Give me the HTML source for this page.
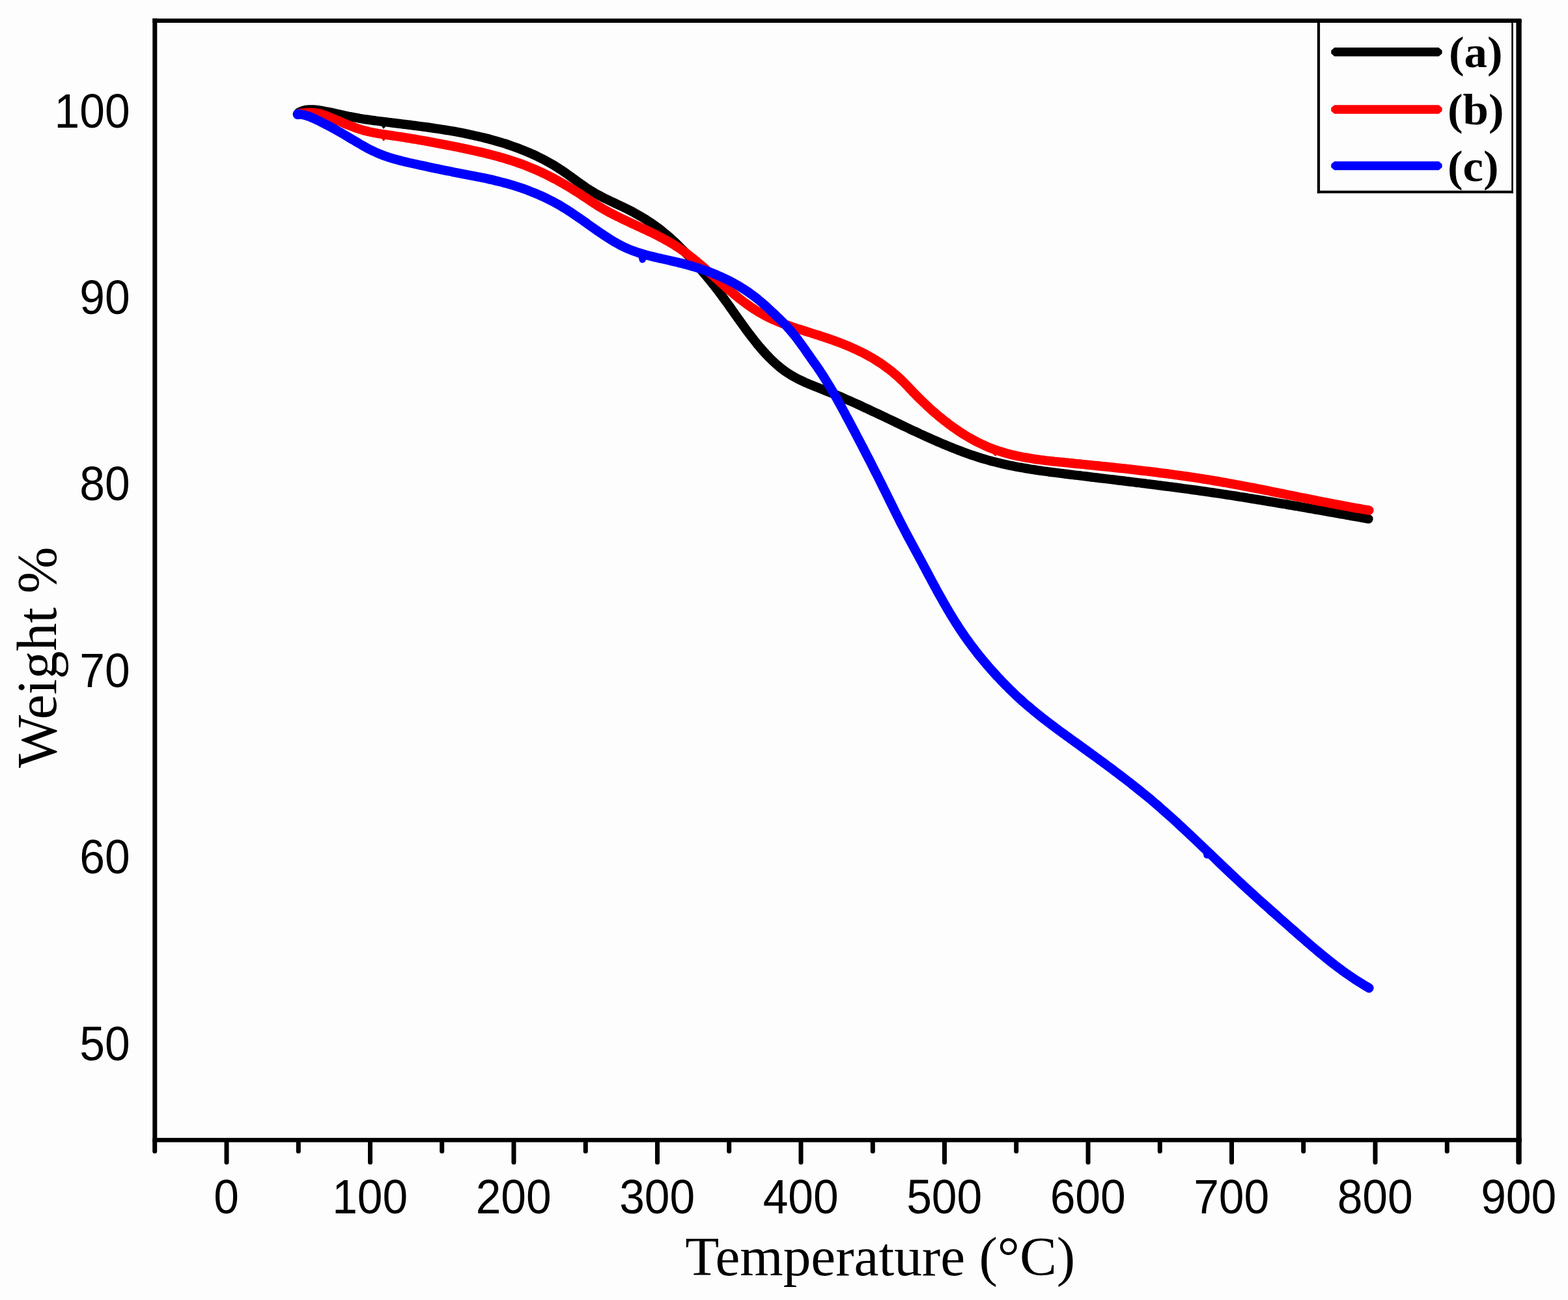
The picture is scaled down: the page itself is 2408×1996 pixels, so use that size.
<!DOCTYPE html>
<html lang="en">
<head>
<meta charset="utf-8">
<title>TGA curves: Weight % vs Temperature (°C)</title>
<style>
html,body{margin:0;padding:0;background:#fdfdfd;}
body{width:2408px;height:1996px;overflow:hidden;}
svg{display:block;}
</style>
</head>
<body>
<svg width="2408" height="1996" viewBox="0 0 2408 1996">
<rect width="2408" height="1996" fill="#fdfdfd"/>
<path d="M458.9 172.6C460.2 172.2 463.8 170.4 466.4 169.7C468.9 169.0 471.6 168.7 474.2 168.5C476.9 168.3 479.5 168.4 482.2 168.5C484.9 168.7 487.6 169.0 490.3 169.4C492.9 169.7 495.6 170.2 498.3 170.7C500.9 171.1 503.6 171.7 506.2 172.2C508.8 172.7 511.5 173.3 514.1 173.9C516.7 174.4 519.3 175.0 521.9 175.6C524.5 176.2 527.1 176.8 529.7 177.4C532.3 177.9 534.9 178.5 537.5 179.1C540.1 179.6 542.7 180.1 545.3 180.6C547.9 181.1 550.5 181.6 553.1 182.0C555.8 182.4 558.4 182.8 561.0 183.2C563.7 183.6 566.3 184.0 568.9 184.3C571.6 184.7 574.2 185.0 576.9 185.4C579.5 185.7 582.2 186.0 584.8 186.4C587.5 186.7 590.1 187.0 592.8 187.3C595.4 187.7 598.1 188.0 600.8 188.3C603.4 188.6 606.1 189.0 608.7 189.3C611.4 189.6 614.0 189.9 616.7 190.3C619.4 190.6 622.0 190.9 624.7 191.3C627.3 191.6 630.0 191.9 632.6 192.3C635.3 192.6 638.0 192.9 640.6 193.3C643.3 193.6 645.9 194.0 648.6 194.4C651.2 194.7 653.9 195.1 656.5 195.4C659.2 195.8 661.9 196.2 664.5 196.6C667.2 197.0 669.8 197.4 672.5 197.8C675.1 198.2 677.7 198.6 680.4 199.0C683.0 199.4 685.7 199.8 688.3 200.3C691.0 200.7 693.6 201.2 696.2 201.6C698.9 202.1 701.5 202.6 704.1 203.1C706.7 203.6 709.4 204.1 712.0 204.6C714.6 205.1 717.2 205.6 719.9 206.2C722.5 206.7 725.1 207.3 727.7 207.9C730.3 208.4 732.9 209.0 735.5 209.7C738.1 210.3 740.7 210.9 743.3 211.5C745.9 212.2 748.5 212.8 751.1 213.5C753.7 214.2 756.2 214.9 758.8 215.6C761.4 216.4 764.0 217.1 766.5 217.9C769.1 218.6 771.6 219.4 774.2 220.2C776.8 221.0 779.3 221.9 781.8 222.7C784.4 223.6 786.9 224.4 789.5 225.4C792.0 226.3 794.5 227.2 797.0 228.1C799.5 229.1 802.0 230.1 804.5 231.1C807.0 232.1 809.5 233.1 811.9 234.1C814.4 235.2 816.8 236.3 819.3 237.4C821.7 238.5 824.1 239.6 826.5 240.8C828.9 242.0 831.3 243.2 833.7 244.4C836.1 245.6 838.4 246.9 840.8 248.2C843.1 249.4 845.5 250.8 847.8 252.1C850.1 253.5 852.3 254.9 854.6 256.3C856.9 257.7 859.1 259.1 861.3 260.6C863.6 262.1 865.8 263.6 868.0 265.1C870.2 266.7 872.3 268.2 874.5 269.8C876.7 271.4 878.8 272.9 881.0 274.5C883.1 276.1 885.3 277.7 887.5 279.2C889.6 280.8 891.8 282.3 894.0 283.9C896.1 285.4 898.3 286.9 900.5 288.4C902.7 289.8 905.0 291.3 907.2 292.7C909.5 294.1 911.7 295.4 914.0 296.7C916.3 298.0 918.6 299.3 921.0 300.5C923.3 301.8 925.7 303.0 928.0 304.2C930.4 305.3 932.8 306.5 935.2 307.6C937.6 308.8 940.0 309.9 942.4 311.0C944.8 312.2 947.2 313.3 949.6 314.4C952.0 315.5 954.4 316.7 956.8 317.8C959.2 319.0 961.6 320.2 964.0 321.4C966.3 322.6 968.7 323.8 971.1 325.0C973.4 326.3 975.8 327.6 978.1 328.9C980.4 330.2 982.7 331.5 985.0 332.9C987.3 334.2 989.6 335.6 991.9 337.1C994.1 338.5 996.4 339.9 998.6 341.4C1000.8 342.9 1003.0 344.4 1005.2 346.0C1007.3 347.5 1009.5 349.1 1011.6 350.7C1013.8 352.4 1015.9 354.0 1017.9 355.7C1020.0 357.4 1022.1 359.1 1024.1 360.8C1026.2 362.6 1028.2 364.3 1030.2 366.1C1032.2 367.9 1034.1 369.7 1036.1 371.5C1038.1 373.4 1040.0 375.2 1041.9 377.1C1043.8 379.0 1045.7 380.9 1047.6 382.8C1049.5 384.7 1051.4 386.6 1053.3 388.5C1055.1 390.5 1056.9 392.4 1058.8 394.4C1060.6 396.4 1062.4 398.3 1064.2 400.3C1066.0 402.3 1067.8 404.3 1069.6 406.3C1071.3 408.3 1073.1 410.3 1074.9 412.3C1076.6 414.3 1078.4 416.3 1080.1 418.3C1081.8 420.3 1083.5 422.4 1085.2 424.4C1086.9 426.5 1088.6 428.5 1090.3 430.6C1092.0 432.6 1093.7 434.7 1095.3 436.8C1097.0 438.9 1098.6 441.0 1100.2 443.1C1101.9 445.2 1103.5 447.3 1105.1 449.5C1106.7 451.6 1108.3 453.8 1109.9 455.9C1111.4 458.1 1113.0 460.2 1114.6 462.4C1116.2 464.6 1117.7 466.7 1119.3 468.9C1120.8 471.1 1122.4 473.3 1123.9 475.4C1125.4 477.6 1127.0 479.8 1128.5 482.0C1130.0 484.1 1131.6 486.3 1133.1 488.5C1134.6 490.6 1136.2 492.8 1137.7 494.9C1139.3 497.1 1140.8 499.2 1142.4 501.4C1143.9 503.5 1145.5 505.7 1147.1 507.8C1148.7 509.9 1150.3 512.1 1151.9 514.2C1153.5 516.3 1155.1 518.4 1156.8 520.5C1158.4 522.6 1160.1 524.7 1161.8 526.8C1163.4 528.9 1165.2 530.9 1166.9 533.0C1168.6 535.0 1170.4 537.1 1172.2 539.1C1174.0 541.1 1175.8 543.1 1177.6 545.0C1179.5 547.0 1181.3 548.9 1183.2 550.8C1185.1 552.7 1187.1 554.6 1189.1 556.4C1191.0 558.2 1193.0 560.0 1195.1 561.7C1197.1 563.4 1199.2 565.1 1201.3 566.7C1203.4 568.3 1205.5 569.9 1207.7 571.4C1209.9 572.9 1212.1 574.3 1214.4 575.7C1216.7 577.0 1219.0 578.3 1221.3 579.6C1223.6 580.9 1226.0 582.1 1228.4 583.3C1230.8 584.4 1233.2 585.5 1235.6 586.7C1238.0 587.8 1240.5 588.8 1242.9 589.9C1245.4 590.9 1247.9 591.9 1250.4 592.9C1252.9 593.9 1255.4 594.9 1257.9 595.9C1260.4 596.9 1262.9 597.9 1265.4 598.9C1267.9 599.8 1270.4 600.8 1272.9 601.8C1275.4 602.8 1277.8 603.8 1280.3 604.9C1282.8 605.9 1285.3 606.9 1287.7 608.0C1290.2 609.0 1292.6 610.0 1295.1 611.1C1297.5 612.2 1300.0 613.2 1302.4 614.3C1304.9 615.4 1307.3 616.5 1309.7 617.5C1312.2 618.6 1314.6 619.7 1317.0 620.8C1319.5 621.9 1321.9 623.0 1324.3 624.2C1326.7 625.3 1329.1 626.4 1331.6 627.5C1334.0 628.6 1336.4 629.8 1338.8 630.9C1341.2 632.0 1343.6 633.2 1346.0 634.3C1348.4 635.4 1350.8 636.6 1353.2 637.7C1355.6 638.9 1358.0 640.0 1360.4 641.1C1362.8 642.3 1365.3 643.4 1367.7 644.6C1370.1 645.7 1372.5 646.9 1374.9 648.0C1377.3 649.2 1379.7 650.3 1382.1 651.5C1384.5 652.6 1386.9 653.8 1389.3 654.9C1391.7 656.1 1394.2 657.2 1396.6 658.4C1399.0 659.5 1401.4 660.6 1403.8 661.8C1406.3 662.9 1408.7 664.0 1411.1 665.2C1413.6 666.3 1416.0 667.4 1418.4 668.5C1420.9 669.7 1423.3 670.8 1425.8 671.9C1428.2 673.0 1430.7 674.1 1433.1 675.2C1435.6 676.2 1438.0 677.3 1440.5 678.4C1442.9 679.5 1445.4 680.5 1447.9 681.6C1450.3 682.6 1452.8 683.6 1455.3 684.7C1457.8 685.7 1460.3 686.7 1462.7 687.7C1465.2 688.7 1467.7 689.7 1470.2 690.6C1472.7 691.6 1475.2 692.5 1477.7 693.5C1480.2 694.4 1482.7 695.3 1485.3 696.2C1487.8 697.1 1490.3 698.0 1492.8 698.9C1495.4 699.7 1497.9 700.6 1500.4 701.4C1503.0 702.2 1505.5 703.0 1508.1 703.8C1510.6 704.5 1513.2 705.3 1515.7 706.0C1518.3 706.8 1520.9 707.5 1523.4 708.2C1526.0 708.8 1528.6 709.5 1531.2 710.1C1533.7 710.8 1536.3 711.4 1538.9 712.0C1541.5 712.6 1544.1 713.2 1546.7 713.7C1549.3 714.3 1551.9 714.8 1554.5 715.3C1557.2 715.9 1559.8 716.4 1562.4 716.9C1565.0 717.4 1567.6 717.8 1570.3 718.3C1572.9 718.7 1575.5 719.2 1578.2 719.6C1580.8 720.0 1583.4 720.5 1586.1 720.9C1588.7 721.3 1591.3 721.7 1594.0 722.1C1596.6 722.4 1599.3 722.8 1601.9 723.2C1604.6 723.6 1607.2 723.9 1609.9 724.3C1612.5 724.6 1615.2 725.0 1617.8 725.3C1620.5 725.7 1623.1 726.0 1625.8 726.3C1628.4 726.7 1631.1 727.0 1633.7 727.3C1636.4 727.6 1639.1 728.0 1641.7 728.3C1644.4 728.6 1647.0 728.9 1649.7 729.3C1652.3 729.6 1655.0 729.9 1657.6 730.2C1660.3 730.5 1663.0 730.9 1665.6 731.2C1668.3 731.5 1670.9 731.8 1673.6 732.1C1676.2 732.5 1678.9 732.8 1681.5 733.1C1684.2 733.4 1686.8 733.7 1689.5 734.1C1692.1 734.4 1694.8 734.7 1697.5 735.0C1700.1 735.3 1702.8 735.7 1705.4 736.0C1708.1 736.3 1710.7 736.6 1713.4 736.9C1716.0 737.3 1718.7 737.6 1721.3 737.9C1724.0 738.2 1726.6 738.5 1729.3 738.9C1731.9 739.2 1734.6 739.5 1737.2 739.8C1739.9 740.2 1742.5 740.5 1745.2 740.8C1747.8 741.1 1750.5 741.5 1753.2 741.8C1755.8 742.1 1758.5 742.4 1761.1 742.8C1763.8 743.1 1766.4 743.4 1769.1 743.8C1771.7 744.1 1774.4 744.4 1777.0 744.8C1779.7 745.1 1782.3 745.5 1784.9 745.8C1787.6 746.1 1790.2 746.5 1792.9 746.8C1795.5 747.2 1798.2 747.5 1800.8 747.8C1803.5 748.2 1806.1 748.5 1808.8 748.9C1811.4 749.2 1814.1 749.6 1816.7 750.0C1819.4 750.3 1822.0 750.7 1824.7 751.0C1827.3 751.4 1830.0 751.7 1832.6 752.1C1835.2 752.5 1837.9 752.8 1840.5 753.2C1843.2 753.6 1845.8 754.0 1848.5 754.3C1851.1 754.7 1853.8 755.1 1856.4 755.5C1859.0 755.9 1861.7 756.2 1864.3 756.6C1867.0 757.0 1869.6 757.4 1872.3 757.8C1874.9 758.2 1877.5 758.6 1880.2 759.0C1882.8 759.4 1885.5 759.8 1888.1 760.2C1890.7 760.6 1893.4 761.0 1896.0 761.4C1898.7 761.8 1901.3 762.2 1903.9 762.7C1906.6 763.1 1909.2 763.5 1911.9 763.9C1914.5 764.3 1917.1 764.8 1919.8 765.2C1922.4 765.6 1925.1 766.0 1927.7 766.5C1930.3 766.9 1933.0 767.3 1935.6 767.8C1938.2 768.2 1940.9 768.6 1943.5 769.1C1946.2 769.5 1948.8 769.9 1951.4 770.4C1954.1 770.8 1956.7 771.3 1959.3 771.7C1962.0 772.2 1964.6 772.6 1967.2 773.1C1969.9 773.5 1972.5 774.0 1975.1 774.4C1977.8 774.9 1980.4 775.3 1983.1 775.8C1985.7 776.2 1988.3 776.7 1991.0 777.1C1993.6 777.6 1996.2 778.0 1998.9 778.5C2001.5 779.0 2004.1 779.4 2006.8 779.9C2009.4 780.3 2012.0 780.8 2014.7 781.3C2017.3 781.7 2019.9 782.2 2022.6 782.6C2025.2 783.1 2027.8 783.6 2030.5 784.0C2033.1 784.5 2035.7 785.0 2038.3 785.4C2041.0 785.9 2043.6 786.4 2046.2 786.8C2048.9 787.3 2051.5 787.8 2054.1 788.2C2056.8 788.7 2059.4 789.1 2062.0 789.6C2064.7 790.1 2067.3 790.5 2069.9 791.0C2072.6 791.5 2075.2 791.9 2077.8 792.4C2080.5 792.9 2083.1 793.3 2085.7 793.8C2088.3 794.3 2091.0 794.7 2093.6 795.2C2096.2 795.7 2100.2 796.3 2101.5 796.6" fill="none" stroke="#000" stroke-width="14.3" stroke-linecap="round" stroke-linejoin="round"/>
<path d="M583.5 190l5.5 8 6-7z" fill="#000"/>
<path d="M458.0 174.5C459.3 174.3 463.3 173.8 465.9 173.6C468.6 173.3 471.3 173.1 474.0 173.0C476.7 172.9 479.4 172.9 482.0 173.2C484.7 173.4 487.3 173.8 489.9 174.3C492.5 174.9 495.1 175.7 497.6 176.6C500.1 177.4 502.6 178.5 505.1 179.5C507.6 180.5 510.1 181.5 512.5 182.5C515.0 183.6 517.5 184.6 519.9 185.7C522.4 186.7 524.9 187.8 527.3 188.8C529.8 189.9 532.3 190.9 534.7 191.9C537.2 192.9 539.7 193.9 542.2 194.8C544.7 195.7 547.2 196.6 549.7 197.5C552.2 198.3 554.8 199.1 557.3 199.8C559.9 200.6 562.5 201.2 565.1 201.8C567.7 202.5 570.3 203.0 572.9 203.5C575.6 204.0 578.2 204.5 580.9 205.0C583.5 205.4 586.2 205.8 588.9 206.2C591.5 206.6 594.2 207.0 596.9 207.4C599.5 207.8 602.2 208.2 604.9 208.6C607.5 209.0 610.2 209.4 612.8 209.8C615.5 210.2 618.1 210.6 620.8 211.0C623.4 211.5 626.0 211.9 628.7 212.3C631.3 212.8 633.9 213.2 636.6 213.6C639.2 214.1 641.8 214.5 644.4 215.0C647.1 215.4 649.7 215.9 652.3 216.3C654.9 216.8 657.5 217.3 660.2 217.7C662.8 218.2 665.4 218.7 668.0 219.2C670.6 219.7 673.2 220.2 675.8 220.7C678.5 221.2 681.1 221.7 683.7 222.2C686.3 222.7 688.9 223.2 691.5 223.7C694.1 224.2 696.8 224.8 699.4 225.3C702.0 225.8 704.6 226.4 707.2 226.9C709.9 227.4 712.5 228.0 715.1 228.5C717.7 229.1 720.3 229.7 723.0 230.2C725.6 230.8 728.2 231.4 730.8 232.0C733.5 232.6 736.1 233.2 738.7 233.8C741.3 234.4 743.9 235.0 746.6 235.7C749.2 236.3 751.8 236.9 754.4 237.6C757.0 238.3 759.6 239.0 762.2 239.7C764.8 240.4 767.4 241.1 770.0 241.8C772.6 242.6 775.1 243.3 777.7 244.1C780.3 244.9 782.8 245.7 785.4 246.5C787.9 247.3 790.5 248.2 793.0 249.1C795.5 249.9 798.1 250.8 800.6 251.7C803.1 252.7 805.6 253.6 808.1 254.6C810.5 255.6 813.0 256.6 815.5 257.6C817.9 258.6 820.4 259.7 822.8 260.7C825.3 261.8 827.7 262.9 830.1 264.0C832.6 265.1 835.0 266.3 837.4 267.4C839.8 268.6 842.1 269.8 844.5 271.0C846.9 272.2 849.3 273.4 851.6 274.7C854.0 275.9 856.3 277.2 858.7 278.5C861.0 279.8 863.3 281.1 865.6 282.4C867.9 283.8 870.2 285.1 872.5 286.5C874.8 287.9 877.1 289.2 879.4 290.7C881.7 292.1 883.9 293.5 886.2 294.9C888.4 296.4 890.7 297.8 892.9 299.3C895.1 300.8 897.4 302.3 899.6 303.7C901.8 305.2 904.0 306.7 906.3 308.2C908.5 309.7 910.7 311.2 913.0 312.6C915.2 314.0 917.5 315.5 919.7 316.9C922.0 318.3 924.3 319.6 926.6 321.0C928.9 322.3 931.2 323.6 933.6 324.9C935.9 326.2 938.3 327.4 940.6 328.6C943.0 329.9 945.4 331.1 947.8 332.3C950.2 333.4 952.6 334.6 955.0 335.8C957.4 336.9 959.8 338.1 962.2 339.2C964.6 340.4 967.0 341.5 969.5 342.6C971.9 343.7 974.3 344.9 976.7 346.0C979.2 347.1 981.6 348.2 984.0 349.3C986.4 350.5 988.8 351.6 991.3 352.7C993.7 353.9 996.1 355.0 998.5 356.2C1000.9 357.3 1003.3 358.5 1005.7 359.7C1008.0 360.9 1010.4 362.1 1012.8 363.3C1015.1 364.5 1017.5 365.8 1019.8 367.1C1022.1 368.3 1024.5 369.6 1026.8 371.0C1029.1 372.3 1031.4 373.6 1033.6 375.0C1035.9 376.4 1038.1 377.9 1040.3 379.3C1042.6 380.8 1044.8 382.3 1046.9 383.8C1049.1 385.4 1051.3 386.9 1053.4 388.5C1055.6 390.1 1057.7 391.7 1059.8 393.4C1061.9 395.0 1064.0 396.7 1066.1 398.4C1068.2 400.1 1070.3 401.8 1072.4 403.6C1074.4 405.3 1076.5 407.0 1078.5 408.8C1080.6 410.6 1082.6 412.4 1084.6 414.1C1086.7 415.9 1088.7 417.7 1090.7 419.5C1092.7 421.3 1094.8 423.1 1096.8 424.9C1098.8 426.7 1100.8 428.5 1102.8 430.3C1104.9 432.1 1106.9 434.0 1108.9 435.7C1110.9 437.5 1112.9 439.3 1115.0 441.1C1117.0 442.9 1119.0 444.6 1121.1 446.4C1123.1 448.1 1125.2 449.9 1127.2 451.6C1129.3 453.3 1131.4 455.0 1133.5 456.7C1135.5 458.4 1137.6 460.0 1139.7 461.6C1141.9 463.3 1144.0 464.9 1146.1 466.4C1148.3 468.0 1150.4 469.5 1152.6 471.0C1154.8 472.5 1157.0 474.0 1159.2 475.4C1161.4 476.9 1163.6 478.2 1165.9 479.6C1168.2 480.9 1170.4 482.2 1172.8 483.5C1175.1 484.8 1177.4 486.0 1179.8 487.1C1182.1 488.3 1184.5 489.4 1186.9 490.5C1189.3 491.6 1191.7 492.6 1194.2 493.6C1196.6 494.6 1199.1 495.6 1201.6 496.6C1204.0 497.5 1206.5 498.4 1209.1 499.3C1211.6 500.2 1214.1 501.1 1216.6 501.9C1219.1 502.8 1221.7 503.6 1224.2 504.5C1226.8 505.3 1229.3 506.1 1231.9 506.9C1234.4 507.7 1237.0 508.5 1239.6 509.3C1242.1 510.1 1244.7 510.9 1247.2 511.7C1249.8 512.5 1252.4 513.3 1254.9 514.2C1257.5 515.0 1260.0 515.8 1262.6 516.7C1265.1 517.5 1267.6 518.3 1270.2 519.2C1272.7 520.1 1275.2 520.9 1277.7 521.8C1280.3 522.7 1282.8 523.6 1285.3 524.6C1287.8 525.5 1290.3 526.4 1292.8 527.4C1295.3 528.4 1297.7 529.4 1300.2 530.4C1302.7 531.4 1305.1 532.4 1307.6 533.5C1310.0 534.6 1312.4 535.7 1314.8 536.8C1317.3 537.9 1319.7 539.1 1322.1 540.3C1324.5 541.4 1326.8 542.6 1329.2 543.9C1331.6 545.2 1333.9 546.4 1336.2 547.8C1338.6 549.1 1340.9 550.4 1343.2 551.8C1345.5 553.2 1347.7 554.7 1350.0 556.2C1352.3 557.6 1354.5 559.2 1356.7 560.7C1358.9 562.3 1361.1 563.9 1363.2 565.5C1365.4 567.1 1367.5 568.7 1369.6 570.4C1371.6 572.1 1373.7 573.8 1375.7 575.5C1377.6 577.2 1379.6 578.9 1381.5 580.7C1383.4 582.5 1385.2 584.2 1387.0 586.0C1388.8 587.8 1390.5 589.6 1392.3 591.4C1394.0 593.2 1395.7 595.1 1397.4 596.9C1399.2 598.7 1400.9 600.5 1402.6 602.4C1404.4 604.2 1406.2 606.0 1408.0 607.9C1409.8 609.7 1411.6 611.5 1413.5 613.3C1415.4 615.2 1417.2 617.0 1419.1 618.8C1421.1 620.6 1423.0 622.4 1424.9 624.2C1426.9 626.0 1428.9 627.8 1430.8 629.6C1432.8 631.4 1434.9 633.1 1436.9 634.9C1438.9 636.6 1441.0 638.3 1443.1 640.1C1445.2 641.8 1447.3 643.5 1449.4 645.2C1451.5 646.8 1453.6 648.5 1455.8 650.1C1458.0 651.8 1460.1 653.4 1462.3 655.0C1464.5 656.5 1466.7 658.1 1469.0 659.6C1471.2 661.2 1473.5 662.7 1475.7 664.1C1478.0 665.6 1480.3 667.1 1482.6 668.5C1484.9 669.9 1487.2 671.3 1489.6 672.6C1491.9 673.9 1494.3 675.2 1496.6 676.5C1499.0 677.8 1501.4 679.0 1503.8 680.2C1506.2 681.4 1508.6 682.5 1511.0 683.6C1513.5 684.7 1515.9 685.8 1518.4 686.8C1520.8 687.8 1523.3 688.7 1525.8 689.7C1528.3 690.6 1530.8 691.4 1533.3 692.3C1535.8 693.1 1538.3 693.9 1540.9 694.6C1543.4 695.4 1545.9 696.1 1548.5 696.8C1551.1 697.5 1553.6 698.1 1556.2 698.7C1558.8 699.3 1561.4 699.9 1563.9 700.4C1566.5 701.0 1569.1 701.5 1571.8 702.0C1574.4 702.4 1577.0 702.9 1579.6 703.3C1582.2 703.8 1584.9 704.2 1587.5 704.6C1590.1 705.0 1592.8 705.4 1595.4 705.7C1598.1 706.1 1600.7 706.4 1603.4 706.7C1606.0 707.1 1608.7 707.4 1611.3 707.7C1614.0 708.0 1616.7 708.3 1619.3 708.6C1622.0 708.8 1624.7 709.1 1627.3 709.4C1630.0 709.6 1632.7 709.9 1635.3 710.2C1638.0 710.4 1640.7 710.7 1643.3 711.0C1646.0 711.2 1648.7 711.5 1651.3 711.8C1654.0 712.0 1656.7 712.3 1659.3 712.5C1662.0 712.8 1664.7 713.1 1667.3 713.3C1670.0 713.6 1672.7 713.9 1675.3 714.1C1678.0 714.4 1680.7 714.7 1683.3 715.0C1686.0 715.2 1688.7 715.5 1691.3 715.8C1694.0 716.1 1696.7 716.3 1699.3 716.6C1702.0 716.9 1704.6 717.2 1707.3 717.4C1710.0 717.7 1712.6 718.0 1715.3 718.3C1717.9 718.6 1720.6 718.9 1723.3 719.2C1725.9 719.4 1728.6 719.7 1731.2 720.0C1733.9 720.3 1736.5 720.6 1739.2 720.9C1741.9 721.2 1744.5 721.5 1747.2 721.8C1749.8 722.1 1752.5 722.5 1755.1 722.8C1757.8 723.1 1760.4 723.4 1763.1 723.7C1765.7 724.0 1768.4 724.4 1771.0 724.7C1773.7 725.0 1776.3 725.3 1779.0 725.7C1781.6 726.0 1784.3 726.3 1786.9 726.7C1789.6 727.0 1792.2 727.4 1794.9 727.7C1797.5 728.1 1800.2 728.4 1802.8 728.8C1805.5 729.1 1808.1 729.5 1810.8 729.9C1813.4 730.2 1816.1 730.6 1818.7 731.0C1821.4 731.4 1824.0 731.8 1826.6 732.1C1829.3 732.5 1831.9 732.9 1834.6 733.3C1837.2 733.7 1839.8 734.1 1842.5 734.5C1845.1 734.9 1847.8 735.4 1850.4 735.8C1853.0 736.2 1855.7 736.6 1858.3 737.0C1861.0 737.5 1863.6 737.9 1866.2 738.4C1868.9 738.8 1871.5 739.3 1874.1 739.7C1876.8 740.2 1879.4 740.6 1882.0 741.1C1884.7 741.6 1887.3 742.0 1889.9 742.5C1892.6 743.0 1895.2 743.5 1897.8 744.0C1900.5 744.4 1903.1 744.9 1905.7 745.4C1908.4 745.9 1911.0 746.4 1913.6 746.9C1916.2 747.4 1918.9 747.9 1921.5 748.4C1924.1 748.9 1926.8 749.4 1929.4 750.0C1932.0 750.5 1934.6 751.0 1937.3 751.5C1939.9 752.0 1942.5 752.6 1945.1 753.1C1947.8 753.6 1950.4 754.1 1953.0 754.7C1955.6 755.2 1958.3 755.7 1960.9 756.2C1963.5 756.8 1966.1 757.3 1968.8 757.8C1971.4 758.4 1974.0 758.9 1976.6 759.4C1979.3 760.0 1981.9 760.5 1984.5 761.0C1987.1 761.6 1989.7 762.1 1992.4 762.6C1995.0 763.2 1997.6 763.7 2000.2 764.2C2002.9 764.7 2005.5 765.3 2008.1 765.8C2010.7 766.3 2013.3 766.9 2016.0 767.4C2018.6 767.9 2021.2 768.4 2023.8 768.9C2026.5 769.5 2029.1 770.0 2031.7 770.5C2034.3 771.0 2036.9 771.5 2039.6 772.0C2042.2 772.6 2044.8 773.1 2047.4 773.6C2050.1 774.1 2052.7 774.6 2055.3 775.1C2057.9 775.6 2060.5 776.1 2063.2 776.5C2065.8 777.0 2068.4 777.5 2071.0 778.0C2073.7 778.5 2076.3 779.0 2078.9 779.4C2081.5 779.9 2084.1 780.4 2086.8 780.8C2089.4 781.3 2092.0 781.7 2094.6 782.2C2097.3 782.6 2101.2 783.3 2102.5 783.5" fill="none" stroke="#f00" stroke-width="14.3" stroke-linecap="round" stroke-linejoin="round"/>
<path d="M583.5 209l5.5 8 6-7z" fill="#f00"/>
<path d="M1523 695l5.5 5.5 5-4z" fill="#f00"/>
<path d="M457.5 175.4C458.8 175.6 462.9 175.7 465.5 176.2C468.1 176.7 470.7 177.5 473.2 178.4C475.7 179.2 478.2 180.3 480.6 181.4C483.1 182.4 485.5 183.6 487.9 184.8C490.4 185.9 492.8 187.2 495.1 188.4C497.5 189.6 499.9 190.8 502.3 192.0C504.7 193.3 507.0 194.5 509.4 195.8C511.7 197.1 514.0 198.4 516.4 199.7C518.7 201.0 521.0 202.3 523.3 203.6C525.7 205.0 528.0 206.3 530.3 207.7C532.6 209.0 534.9 210.4 537.2 211.8C539.5 213.2 541.8 214.6 544.1 215.9C546.4 217.3 548.7 218.7 551.0 220.0C553.3 221.4 555.6 222.7 557.9 224.0C560.3 225.3 562.6 226.6 565.0 227.9C567.3 229.1 569.7 230.3 572.1 231.5C574.5 232.6 576.9 233.8 579.3 234.8C581.7 235.9 584.2 236.9 586.7 237.8C589.1 238.8 591.6 239.7 594.2 240.5C596.7 241.4 599.2 242.2 601.8 243.0C604.3 243.7 606.9 244.5 609.5 245.2C612.0 245.9 614.6 246.6 617.2 247.2C619.8 247.9 622.5 248.5 625.1 249.1C627.7 249.7 630.3 250.3 633.0 250.9C635.6 251.5 638.2 252.1 640.8 252.6C643.5 253.2 646.1 253.8 648.8 254.3C651.4 254.9 654.0 255.5 656.7 256.0C659.3 256.6 661.9 257.1 664.6 257.7C667.2 258.3 669.8 258.8 672.5 259.3C675.1 259.9 677.7 260.4 680.4 261.0C683.0 261.5 685.6 262.0 688.3 262.6C690.9 263.1 693.5 263.6 696.1 264.2C698.8 264.7 701.4 265.2 704.0 265.7C706.6 266.2 709.2 266.7 711.8 267.2C714.4 267.7 717.0 268.2 719.6 268.7C722.2 269.2 724.8 269.7 727.4 270.2C730.0 270.7 732.6 271.3 735.2 271.8C737.8 272.3 740.4 272.8 743.0 273.3C745.6 273.9 748.2 274.4 750.7 275.0C753.3 275.6 755.9 276.1 758.5 276.7C761.1 277.3 763.6 277.9 766.2 278.6C768.8 279.2 771.4 279.9 773.9 280.6C776.5 281.3 779.1 282.0 781.7 282.7C784.2 283.5 786.8 284.2 789.4 285.0C791.9 285.8 794.5 286.6 797.0 287.5C799.6 288.3 802.1 289.2 804.7 290.1C807.2 291.0 809.7 291.9 812.2 292.9C814.8 293.9 817.3 294.8 819.8 295.9C822.3 296.9 824.7 297.9 827.2 299.0C829.7 300.1 832.1 301.2 834.6 302.3C837.0 303.4 839.5 304.6 841.9 305.8C844.3 307.0 846.7 308.2 849.0 309.4C851.4 310.7 853.8 311.9 856.1 313.3C858.4 314.6 860.7 315.9 863.0 317.3C865.3 318.7 867.6 320.1 869.9 321.5C872.1 322.9 874.4 324.4 876.6 325.8C878.8 327.3 881.0 328.8 883.2 330.3C885.4 331.8 887.6 333.3 889.8 334.9C892.0 336.4 894.2 337.9 896.4 339.5C898.6 341.0 900.8 342.6 903.0 344.2C905.1 345.7 907.3 347.3 909.5 348.8C911.7 350.4 913.9 351.9 916.1 353.5C918.3 355.0 920.5 356.6 922.8 358.1C925.0 359.6 927.2 361.1 929.5 362.6C931.7 364.1 934.0 365.5 936.3 366.9C938.5 368.4 940.8 369.7 943.1 371.1C945.4 372.4 947.8 373.8 950.1 375.0C952.4 376.3 954.8 377.5 957.2 378.7C959.6 379.8 962.0 380.9 964.4 382.0C966.8 383.0 969.3 384.0 971.8 384.9C974.2 385.9 976.7 386.7 979.3 387.6C981.8 388.4 984.3 389.2 986.9 389.9C989.4 390.7 992.0 391.4 994.6 392.1C997.1 392.8 999.7 393.4 1002.3 394.0C1004.9 394.7 1007.5 395.3 1010.1 395.9C1012.8 396.5 1015.4 397.1 1018.0 397.6C1020.6 398.2 1023.2 398.8 1025.9 399.4C1028.5 400.0 1031.1 400.6 1033.7 401.2C1036.4 401.8 1039.0 402.4 1041.6 403.0C1044.2 403.7 1046.8 404.3 1049.4 405.0C1052.0 405.7 1054.6 406.4 1057.2 407.1C1059.8 407.8 1062.4 408.6 1064.9 409.4C1067.5 410.1 1070.1 410.9 1072.6 411.8C1075.1 412.6 1077.7 413.4 1080.2 414.3C1082.7 415.2 1085.2 416.1 1087.8 417.0C1090.3 417.9 1092.7 418.9 1095.2 419.9C1097.7 420.9 1100.2 421.9 1102.6 423.0C1105.0 424.0 1107.5 425.1 1109.9 426.2C1112.3 427.3 1114.7 428.5 1117.1 429.6C1119.5 430.8 1121.8 432.0 1124.2 433.3C1126.5 434.5 1128.9 435.8 1131.2 437.1C1133.5 438.5 1135.8 439.8 1138.0 441.2C1140.3 442.6 1142.5 444.0 1144.8 445.5C1147.0 447.0 1149.2 448.5 1151.4 450.0C1153.6 451.6 1155.7 453.2 1157.9 454.8C1160.0 456.4 1162.1 458.1 1164.2 459.8C1166.3 461.5 1168.3 463.3 1170.4 465.0C1172.4 466.8 1174.5 468.6 1176.5 470.4C1178.5 472.2 1180.5 474.1 1182.4 475.9C1184.4 477.8 1186.4 479.6 1188.4 481.4C1190.3 483.3 1192.3 485.1 1194.2 487.0C1196.1 488.8 1198.0 490.6 1199.9 492.5C1201.8 494.4 1203.7 496.2 1205.5 498.1C1207.4 500.1 1209.2 502.0 1210.9 504.0C1212.7 506.0 1214.4 508.0 1216.1 510.0C1217.8 512.1 1219.5 514.1 1221.1 516.2C1222.7 518.3 1224.4 520.4 1226.0 522.6C1227.6 524.7 1229.1 526.9 1230.7 529.0C1232.3 531.2 1233.8 533.4 1235.4 535.5C1236.9 537.7 1238.5 539.9 1240.0 542.1C1241.5 544.3 1243.1 546.5 1244.6 548.7C1246.2 550.9 1247.7 553.1 1249.2 555.3C1250.8 557.5 1252.3 559.6 1253.9 561.8C1255.4 564.0 1256.9 566.2 1258.4 568.4C1259.9 570.7 1261.4 572.9 1262.8 575.1C1264.3 577.4 1265.7 579.6 1267.1 581.9C1268.5 584.1 1269.9 586.4 1271.3 588.7C1272.7 590.9 1274.1 593.2 1275.5 595.5C1276.8 597.8 1278.2 600.1 1279.5 602.4C1280.9 604.7 1282.2 607.0 1283.5 609.3C1284.8 611.7 1286.1 614.0 1287.4 616.3C1288.7 618.6 1290.0 621.0 1291.3 623.3C1292.6 625.6 1293.9 628.0 1295.1 630.3C1296.4 632.7 1297.7 635.0 1298.9 637.4C1300.2 639.7 1301.5 642.1 1302.7 644.4C1304.0 646.8 1305.2 649.2 1306.5 651.5C1307.7 653.9 1309.0 656.2 1310.2 658.6C1311.5 661.0 1312.7 663.3 1314.0 665.7C1315.2 668.1 1316.5 670.4 1317.7 672.8C1318.9 675.2 1320.2 677.5 1321.4 679.9C1322.7 682.3 1323.9 684.6 1325.1 687.0C1326.4 689.4 1327.6 691.8 1328.8 694.1C1330.0 696.5 1331.3 698.9 1332.5 701.3C1333.7 703.7 1334.9 706.0 1336.2 708.4C1337.4 710.8 1338.6 713.2 1339.8 715.6C1341.0 717.9 1342.2 720.3 1343.4 722.7C1344.6 725.1 1345.9 727.5 1347.1 729.9C1348.3 732.3 1349.5 734.7 1350.7 737.1C1351.9 739.4 1353.1 741.8 1354.3 744.2C1355.5 746.6 1356.6 749.0 1357.8 751.4C1359.0 753.8 1360.2 756.2 1361.4 758.6C1362.6 761.0 1363.8 763.4 1364.9 765.8C1366.1 768.2 1367.3 770.6 1368.5 773.0C1369.7 775.4 1370.9 777.8 1372.1 780.2C1373.2 782.6 1374.4 785.0 1375.6 787.4C1376.8 789.8 1378.0 792.2 1379.2 794.5C1380.4 796.9 1381.6 799.3 1382.8 801.7C1384.0 804.1 1385.3 806.5 1386.5 808.8C1387.7 811.2 1388.9 813.6 1390.2 815.9C1391.4 818.3 1392.6 820.6 1393.9 823.0C1395.1 825.3 1396.4 827.7 1397.7 830.0C1398.9 832.4 1400.2 834.7 1401.5 837.0C1402.7 839.4 1404.0 841.7 1405.3 844.1C1406.6 846.4 1407.8 848.8 1409.1 851.1C1410.4 853.5 1411.6 855.8 1412.9 858.2C1414.2 860.5 1415.4 862.9 1416.7 865.2C1417.9 867.6 1419.2 870.0 1420.5 872.3C1421.7 874.7 1423.0 877.1 1424.2 879.4C1425.5 881.8 1426.8 884.2 1428.0 886.5C1429.3 888.9 1430.6 891.2 1431.8 893.6C1433.1 896.0 1434.4 898.3 1435.7 900.7C1437.0 903.1 1438.2 905.4 1439.5 907.8C1440.8 910.1 1442.1 912.5 1443.4 914.8C1444.7 917.1 1446.1 919.5 1447.4 921.8C1448.7 924.2 1450.0 926.5 1451.4 928.8C1452.7 931.1 1454.0 933.5 1455.4 935.8C1456.8 938.1 1458.1 940.4 1459.5 942.7C1460.9 945.0 1462.3 947.3 1463.7 949.5C1465.1 951.8 1466.5 954.1 1467.9 956.3C1469.4 958.6 1470.8 960.8 1472.3 963.1C1473.7 965.3 1475.2 967.6 1476.7 969.8C1478.2 972.0 1479.7 974.2 1481.2 976.4C1482.8 978.6 1484.3 980.8 1485.9 982.9C1487.4 985.1 1489.0 987.2 1490.6 989.4C1492.2 991.5 1493.8 993.7 1495.4 995.8C1497.0 997.9 1498.6 1000.0 1500.3 1002.1C1501.9 1004.2 1503.6 1006.3 1505.3 1008.4C1507.0 1010.4 1508.7 1012.5 1510.4 1014.5C1512.1 1016.6 1513.8 1018.6 1515.5 1020.6C1517.3 1022.7 1519.0 1024.7 1520.8 1026.7C1522.6 1028.7 1524.3 1030.7 1526.1 1032.6C1527.9 1034.6 1529.7 1036.6 1531.5 1038.5C1533.3 1040.5 1535.2 1042.4 1537.0 1044.4C1538.8 1046.3 1540.7 1048.2 1542.5 1050.1C1544.4 1052.0 1546.3 1053.9 1548.2 1055.8C1550.0 1057.7 1551.9 1059.6 1553.9 1061.4C1555.8 1063.3 1557.7 1065.1 1559.6 1067.0C1561.6 1068.8 1563.5 1070.6 1565.5 1072.4C1567.5 1074.2 1569.4 1076.0 1571.4 1077.7C1573.4 1079.5 1575.4 1081.2 1577.5 1083.0C1579.5 1084.7 1581.5 1086.4 1583.6 1088.1C1585.6 1089.8 1587.7 1091.5 1589.7 1093.2C1591.8 1094.9 1593.9 1096.6 1596.0 1098.2C1598.0 1099.9 1600.1 1101.6 1602.2 1103.2C1604.4 1104.8 1606.5 1106.5 1608.6 1108.1C1610.7 1109.7 1612.8 1111.3 1615.0 1113.0C1617.1 1114.6 1619.2 1116.2 1621.4 1117.8C1623.5 1119.4 1625.7 1121.0 1627.8 1122.6C1630.0 1124.1 1632.1 1125.7 1634.3 1127.3C1636.5 1128.9 1638.6 1130.5 1640.8 1132.0C1643.0 1133.6 1645.1 1135.2 1647.3 1136.7C1649.5 1138.3 1651.7 1139.9 1653.8 1141.4C1656.0 1143.0 1658.2 1144.6 1660.3 1146.1C1662.5 1147.7 1664.7 1149.3 1666.9 1150.9C1669.0 1152.4 1671.2 1154.0 1673.4 1155.6C1675.5 1157.1 1677.7 1158.7 1679.9 1160.3C1682.0 1161.9 1684.2 1163.4 1686.4 1165.0C1688.5 1166.6 1690.7 1168.2 1692.9 1169.8C1695.0 1171.4 1697.2 1173.0 1699.3 1174.5C1701.5 1176.1 1703.6 1177.7 1705.8 1179.3C1707.9 1180.9 1710.1 1182.5 1712.2 1184.2C1714.3 1185.8 1716.5 1187.4 1718.6 1189.0C1720.7 1190.6 1722.9 1192.2 1725.0 1193.9C1727.1 1195.5 1729.2 1197.1 1731.3 1198.8C1733.5 1200.4 1735.6 1202.0 1737.7 1203.7C1739.8 1205.3 1741.9 1207.0 1744.0 1208.7C1746.1 1210.3 1748.2 1212.0 1750.2 1213.7C1752.3 1215.3 1754.4 1217.0 1756.5 1218.7C1758.5 1220.4 1760.6 1222.1 1762.7 1223.8C1764.7 1225.5 1766.8 1227.2 1768.8 1228.9C1770.9 1230.7 1772.9 1232.4 1774.9 1234.1C1777.0 1235.9 1779.0 1237.6 1781.0 1239.4C1783.0 1241.1 1785.0 1242.9 1787.0 1244.7C1789.0 1246.4 1791.0 1248.2 1793.0 1250.0C1795.0 1251.8 1797.0 1253.5 1799.0 1255.3C1801.0 1257.1 1803.0 1258.9 1805.0 1260.7C1806.9 1262.5 1808.9 1264.3 1810.9 1266.2C1812.8 1268.0 1814.8 1269.8 1816.8 1271.6C1818.7 1273.4 1820.7 1275.3 1822.6 1277.1C1824.6 1278.9 1826.5 1280.8 1828.5 1282.6C1830.4 1284.4 1832.4 1286.3 1834.3 1288.1C1836.3 1290.0 1838.2 1291.8 1840.1 1293.6C1842.1 1295.5 1844.0 1297.3 1846.0 1299.2C1847.9 1301.0 1849.8 1302.9 1851.8 1304.7C1853.7 1306.6 1855.6 1308.4 1857.6 1310.3C1859.5 1312.1 1861.4 1314.0 1863.4 1315.8C1865.3 1317.7 1867.2 1319.6 1869.2 1321.4C1871.1 1323.3 1873.0 1325.1 1875.0 1327.0C1876.9 1328.8 1878.8 1330.6 1880.8 1332.5C1882.7 1334.3 1884.7 1336.2 1886.6 1338.0C1888.6 1339.9 1890.5 1341.7 1892.4 1343.5C1894.4 1345.4 1896.3 1347.2 1898.3 1349.0C1900.2 1350.9 1902.2 1352.7 1904.2 1354.5C1906.1 1356.3 1908.1 1358.1 1910.0 1360.0C1912.0 1361.8 1914.0 1363.6 1915.9 1365.4C1917.9 1367.2 1919.9 1369.0 1921.9 1370.8C1923.8 1372.6 1925.8 1374.4 1927.8 1376.2C1929.8 1378.0 1931.8 1379.8 1933.7 1381.6C1935.7 1383.3 1937.7 1385.1 1939.7 1386.9C1941.7 1388.7 1943.7 1390.5 1945.7 1392.3C1947.7 1394.0 1949.7 1395.8 1951.7 1397.6C1953.7 1399.4 1955.7 1401.1 1957.7 1402.9C1959.7 1404.7 1961.7 1406.5 1963.7 1408.2C1965.7 1410.0 1967.7 1411.8 1969.7 1413.5C1971.7 1415.3 1973.7 1417.1 1975.7 1418.8C1977.7 1420.6 1979.7 1422.4 1981.7 1424.1C1983.7 1425.9 1985.7 1427.7 1987.8 1429.4C1989.8 1431.2 1991.8 1433.0 1993.8 1434.7C1995.8 1436.5 1997.8 1438.2 1999.8 1440.0C2001.9 1441.8 2003.9 1443.5 2005.9 1445.3C2007.9 1447.0 2009.9 1448.8 2012.0 1450.5C2014.0 1452.3 2016.0 1454.0 2018.1 1455.7C2020.1 1457.5 2022.2 1459.2 2024.2 1460.9C2026.3 1462.6 2028.3 1464.3 2030.4 1466.0C2032.5 1467.7 2034.5 1469.4 2036.6 1471.1C2038.7 1472.8 2040.8 1474.4 2042.9 1476.1C2045.0 1477.8 2047.1 1479.4 2049.2 1481.0C2051.3 1482.7 2053.5 1484.3 2055.6 1485.9C2057.7 1487.5 2059.9 1489.1 2062.1 1490.7C2064.2 1492.2 2066.4 1493.8 2068.6 1495.3C2070.8 1496.9 2073.0 1498.4 2075.2 1499.9C2077.4 1501.4 2079.6 1502.9 2081.9 1504.4C2084.1 1505.8 2086.4 1507.3 2088.7 1508.7C2090.9 1510.1 2093.2 1511.5 2095.5 1512.9C2097.8 1514.3 2101.3 1516.3 2102.5 1517.0" fill="none" stroke="#00f" stroke-width="14.3" stroke-linecap="round" stroke-linejoin="round"/>
<circle cx="457.4" cy="175.3" r="7.9" fill="#00f"/>
<path d="M980.5 395.5l2 6.5q4 3.5 8 0l2.5-5z" fill="#00f"/>
<path d="M1847 1308l2 8q4.5 4 8.5 1l1-4z" fill="#00f"/>
<g fill="#000">
<rect x="234.3" y="28.4" width="7" height="1725.3"/>
<path d="M234.3 28.4H2335.3L2336.7 29.8V35H234.3z"/>
<rect x="234.3" y="1747.1" width="2102.4" height="6.6"/>
<rect x="2328.4" y="29.5" width="8.3" height="1724.2"/>
<path d="M234.2 1750V1767.8Q234.2 1771.0 237.8 1771.0Q241.2 1771.0 241.2 1767.8V1750z"/>
<path d="M344.5 1750V1784.8Q344.5 1788.0 348.0 1788.0Q351.5 1788.0 351.5 1784.8V1750z"/>
<path d="M454.8 1750V1767.8Q454.8 1771.0 458.2 1771.0Q461.8 1771.0 461.8 1767.8V1750z"/>
<path d="M565.0 1750V1784.8Q565.0 1788.0 568.5 1788.0Q572.0 1788.0 572.0 1784.8V1750z"/>
<path d="M675.2 1750V1767.8Q675.2 1771.0 678.8 1771.0Q682.2 1771.0 682.2 1767.8V1750z"/>
<path d="M785.5 1750V1784.8Q785.5 1788.0 789.0 1788.0Q792.5 1788.0 792.5 1784.8V1750z"/>
<path d="M895.8 1750V1767.8Q895.8 1771.0 899.2 1771.0Q902.8 1771.0 902.8 1767.8V1750z"/>
<path d="M1006.0 1750V1784.8Q1006.0 1788.0 1009.5 1788.0Q1013.0 1788.0 1013.0 1784.8V1750z"/>
<path d="M1116.2 1750V1767.8Q1116.2 1771.0 1119.8 1771.0Q1123.2 1771.0 1123.2 1767.8V1750z"/>
<path d="M1226.5 1750V1784.8Q1226.5 1788.0 1230.0 1788.0Q1233.5 1788.0 1233.5 1784.8V1750z"/>
<path d="M1336.8 1750V1767.8Q1336.8 1771.0 1340.2 1771.0Q1343.8 1771.0 1343.8 1767.8V1750z"/>
<path d="M1447.0 1750V1784.8Q1447.0 1788.0 1450.5 1788.0Q1454.0 1788.0 1454.0 1784.8V1750z"/>
<path d="M1557.2 1750V1767.8Q1557.2 1771.0 1560.8 1771.0Q1564.2 1771.0 1564.2 1767.8V1750z"/>
<path d="M1667.5 1750V1784.8Q1667.5 1788.0 1671.0 1788.0Q1674.5 1788.0 1674.5 1784.8V1750z"/>
<path d="M1777.8 1750V1767.8Q1777.8 1771.0 1781.2 1771.0Q1784.8 1771.0 1784.8 1767.8V1750z"/>
<path d="M1888.0 1750V1784.8Q1888.0 1788.0 1891.5 1788.0Q1895.0 1788.0 1895.0 1784.8V1750z"/>
<path d="M1998.2 1750V1767.8Q1998.2 1771.0 2001.8 1771.0Q2005.2 1771.0 2005.2 1767.8V1750z"/>
<path d="M2108.5 1750V1784.8Q2108.5 1788.0 2112.0 1788.0Q2115.5 1788.0 2115.5 1784.8V1750z"/>
<path d="M2218.8 1750V1767.8Q2218.8 1771.0 2222.2 1771.0Q2225.8 1771.0 2225.8 1767.8V1750z"/>
<path d="M2328.3 1750V1784.8Q2328.3 1788.0 2332.5 1788.0Q2336.7 1788.0 2336.7 1784.8V1750z"/>
</g>
<g fill="#000">
<rect x="2022.9" y="33" width="4.2" height="263.7"/>
<rect x="2022.9" y="292.7" width="300.9" height="4"/>
<rect x="2321.2" y="33" width="2.6" height="263.7"/>
</g>
<polygon points="2044.3,77.4 2049.3,73.0 2209.6,73.0 2214.6,77.4 2214.6,82.2 2209.6,86.5 2049.3,86.5 2044.3,82.2" fill="#000"/>
<polygon points="2044.3,165.6 2049.3,161.2 2209.6,161.2 2214.6,165.6 2214.6,170.4 2209.6,174.8 2049.3,174.8 2044.3,170.4" fill="#f00"/>
<polygon points="2044.3,252.1 2049.3,247.8 2209.6,247.8 2214.6,252.1 2214.6,256.9 2209.6,261.2 2049.3,261.2 2044.3,256.9" fill="#00f"/>
<g font-family="'Liberation Serif', serif" font-weight="bold" font-size="70" fill="#000">
<text transform="translate(2225.0 103.4) scale(1.012 0.975)">(a)</text>
<text transform="translate(2223.0 191.2) scale(1.012 0.975)">(b)</text>
<text transform="translate(2223.0 278.4) scale(1.012 0.975)">(c)</text>
</g>
<g font-family="'Liberation Sans', sans-serif" font-size="70" fill="#000">
<text transform="translate(347.7 1862.8) scale(0.994 1.05)" text-anchor="middle">0</text>
<text transform="translate(568.2 1862.8) scale(0.994 1.05)" text-anchor="middle">100</text>
<text transform="translate(788.7 1862.8) scale(0.994 1.05)" text-anchor="middle">200</text>
<text transform="translate(1009.2 1862.8) scale(0.994 1.05)" text-anchor="middle">300</text>
<text transform="translate(1229.7 1862.8) scale(0.994 1.05)" text-anchor="middle">400</text>
<text transform="translate(1450.2 1862.8) scale(0.994 1.05)" text-anchor="middle">500</text>
<text transform="translate(1670.7 1862.8) scale(0.994 1.05)" text-anchor="middle">600</text>
<text transform="translate(1891.2 1862.8) scale(0.994 1.05)" text-anchor="middle">700</text>
<text transform="translate(2111.7 1862.8) scale(0.994 1.05)" text-anchor="middle">800</text>
<text transform="translate(2332.2 1862.8) scale(0.994 1.05)" text-anchor="middle">900</text>
<text transform="translate(199.6 1627.5) scale(0.994 1.05)" text-anchor="end">50</text>
<text transform="translate(199.6 1341.1) scale(0.994 1.05)" text-anchor="end">60</text>
<text transform="translate(199.6 1054.7) scale(0.994 1.05)" text-anchor="end">70</text>
<text transform="translate(199.6 768.3) scale(0.994 1.05)" text-anchor="end">80</text>
<text transform="translate(199.6 481.9) scale(0.994 1.05)" text-anchor="end">90</text>
<text transform="translate(199.6 195.5) scale(0.994 1.05)" text-anchor="end">100</text>
</g>
<g font-family="'Liberation Serif', serif" fill="#000">
<text x="1351.8" y="1958.3" font-size="85.3" text-anchor="middle">Temperature (°C)</text>
<text transform="translate(85.6 1009.2) rotate(-90)" font-size="86" text-anchor="middle">Weight %</text>
</g>
</svg>
</body>
</html>
